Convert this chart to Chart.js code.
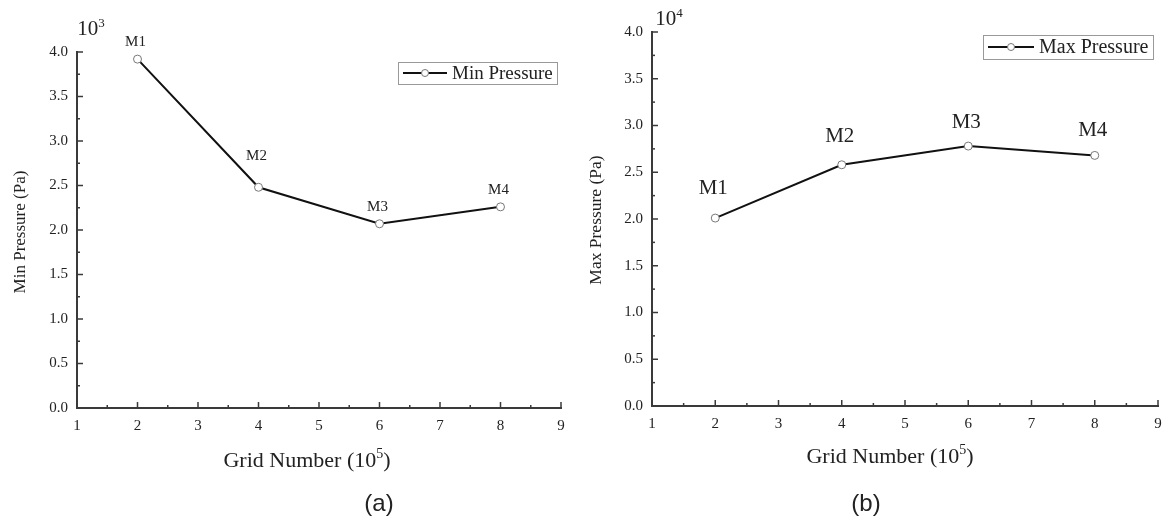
<!DOCTYPE html>
<html>
<head>
<meta charset="utf-8">
<script src="https://cdn.jsdelivr.net/npm/chart.js@4.4.0/dist/chart.umd.min.js"></script>
<style>
  body { margin: 0; background: #fff; }
  #wrap { position: relative; width: 1163px; height: 519px; }
  canvas { position: absolute; top: 0; }
  #minChart { left: 0; }
  #maxChart { left: 580px; }
</style>
</head>
<body>
<div id="wrap">
  <canvas id="minChart" width="580" height="519"></canvas>
  <canvas id="maxChart" width="583" height="519"></canvas>
</div>
<script>
// data
const gridNumbers = [2, 4, 6, 8];          // x, in 10^5 cells
const meshNames = ["M1", "M2", "M3", "M4"];
const minPressure = [3.92, 2.48, 2.07, 2.26]; // x 10^3 Pa
const maxPressure = [2.01, 2.58, 2.78, 2.68]; // x 10^4 Pa
const xTickValues = [1, 2, 3, 4, 5, 6, 7, 8, 9];
const yTickLabels = ["0.0", "0.5", "1.0", "1.5", "2.0", "2.5", "3.0", "3.5", "4.0"];

const FONT = "'Liberation Serif', 'Times New Roman', serif";
const SANS = "'Liberation Sans', Arial, sans-serif";
const AXIS = "#3a3a3a";
const TEXT = "#222";

// draws ticks pointing inward, point labels, legend, titles and captions
function decorPlugin(o) {
  return {
    id: "decor",
    afterDraw(chart) {
      const ctx = chart.ctx;
      const xs = chart.scales.x;
      const ys = chart.scales.y;
      const area = chart.chartArea;
      ctx.save();

      // inward major + minor ticks
      ctx.strokeStyle = AXIS;
      ctx.lineWidth = 1.5;
      const tickLine = (x1, y1, x2, y2) => {
        ctx.beginPath(); ctx.moveTo(x1, y1); ctx.lineTo(x2, y2); ctx.stroke();
      };
      const xt = xs.ticks.map(t => t.value);
      xt.forEach((v, i) => {
        const px = xs.getPixelForValue(v);
        if (i > 0) tickLine(px, area.bottom, px, area.bottom - 6);
        if (i < xt.length - 1) {
          const mx = xs.getPixelForValue((v + xt[i + 1]) / 2);
          tickLine(mx, area.bottom, mx, area.bottom - 3);
        }
      });
      const yt = ys.ticks.map(t => t.value);
      yt.forEach((v, i) => {
        const py = ys.getPixelForValue(v);
        if (i > 0) tickLine(area.left, py, area.left + 6, py);
        if (i < yt.length - 1) {
          const my = ys.getPixelForValue((v + yt[i + 1]) / 2);
          tickLine(area.left, my, area.left + 3, my);
        }
      });

      // point labels
      const meta = chart.getDatasetMeta(0);
      ctx.fillStyle = TEXT;
      ctx.font = o.labelSize + "px " + FONT;
      ctx.textAlign = "center";
      ctx.textBaseline = "middle";
      meta.data.forEach((pt, i) => {
        ctx.fillText(meshNames[i], pt.x - 2, pt.y - o.labelLift[i]);
      });

      // legend box
      const lg = o.legend;
      ctx.fillStyle = "#fff";
      ctx.fillRect(lg.x, lg.y, lg.w, lg.h);
      ctx.strokeStyle = "#999";
      ctx.lineWidth = 1;
      ctx.strokeRect(lg.x + 0.5, lg.y + 0.5, lg.w, lg.h);
      const cy = lg.y + lg.h / 2;
      ctx.strokeStyle = "#111";
      ctx.lineWidth = 2;
      tickLine(lg.x + 5, cy, lg.x + 5 + lg.line, cy);
      ctx.beginPath();
      ctx.arc(lg.x + 5 + lg.line / 2, cy, 3.5, 0, Math.PI * 2);
      ctx.fillStyle = "#fff";
      ctx.fill();
      ctx.strokeStyle = "#777";
      ctx.lineWidth = 1;
      ctx.stroke();
      ctx.fillStyle = TEXT;
      ctx.font = o.legendSize + "px " + FONT;
      ctx.textAlign = "left";
      ctx.fillText(o.seriesName, lg.x + 10 + lg.line, cy + 1);

      // y title (rotated)
      ctx.save();
      ctx.translate(o.yTitle.x, o.yTitle.y);
      ctx.rotate(-Math.PI / 2);
      ctx.textAlign = "center";
      ctx.font = o.yTitle.size + "px " + FONT;
      ctx.fillText(o.yTitle.text, 0, 0);
      ctx.restore();

      // text with a superscript part, centred on cx
      const drawSup = (base, sup, after, cx, cyy, size) => {
        ctx.font = size + "px " + FONT;
        const w1 = ctx.measureText(base).width;
        const w3 = ctx.measureText(after).width;
        ctx.font = Math.round(size * 0.62) + "px " + FONT;
        const w2 = ctx.measureText(sup).width;
        let x = cx - (w1 + w2 + w3) / 2;
        ctx.textAlign = "left";
        ctx.textBaseline = "alphabetic";
        ctx.font = size + "px " + FONT;
        ctx.fillText(base, x, cyy);
        ctx.font = Math.round(size * 0.62) + "px " + FONT;
        ctx.fillText(sup, x + w1, cyy - size * 0.4);
        ctx.font = size + "px " + FONT;
        ctx.fillText(after, x + w1 + w2, cyy);
      };
      drawSup("Grid Number (10", "5", ")", o.xTitle.x, o.xTitle.y, o.xTitle.size);

      // exponent above the y axis
      drawSup("10", o.exp.sup, "", o.exp.x, o.exp.y, o.exp.size);

      // caption
      ctx.font = o.caption.size + "px " + SANS;
      ctx.textAlign = "center";
      ctx.textBaseline = "alphabetic";
      ctx.fillText(o.caption.text, o.caption.x, o.caption.y);

      ctx.restore();
    }
  };
}

function makeChart(id, values, o) {
  const ctx = document.getElementById(id).getContext("2d");
  return new Chart(ctx, {
    type: "line",
    data: {
      datasets: [{
        label: o.seriesName,
        data: gridNumbers.map((g, i) => ({ x: g, y: values[i] })),
        borderColor: "#111",
        borderWidth: 2,
        pointRadius: 4,
        pointBackgroundColor: "#fff",
        pointBorderColor: "#777",
        pointBorderWidth: 1,
        tension: 0,
      }],
    },
    options: {
      responsive: false,
      animation: false,
      devicePixelRatio: 1,
      layout: { padding: o.padding },
      plugins: { legend: { display: false }, tooltip: { enabled: false } },
      scales: {
        x: {
          type: "linear",
          min: xTickValues[0],
          max: xTickValues[xTickValues.length - 1],
          afterBuildTicks: s => { s.ticks = xTickValues.map(v => ({ value: v })); },
          afterFit: s => { s.height = o.xHeight; s.paddingLeft = 0; s.paddingRight = 0; },
          grid: { display: false, drawTicks: false },
          border: { display: true, color: AXIS, width: 2 },
          ticks: {
            autoSkip: false,
            padding: 9,
            color: TEXT,
            font: { family: FONT, size: 15 },
            callback: v => String(v),
          },
        },
        y: {
          min: 0,
          max: 4,
          afterBuildTicks: s => { s.ticks = yTickLabels.map(l => ({ value: parseFloat(l) })); },
          afterFit: s => { s.width = o.yWidth; s.paddingTop = 0; s.paddingBottom = 0; },
          grid: { display: false, drawTicks: false },
          border: { display: true, color: AXIS, width: 2 },
          ticks: {
            autoSkip: false,
            padding: 9,
            color: TEXT,
            font: { family: FONT, size: 15 },
            callback: (v, i) => yTickLabels[i],
          },
        },
      },
    },
    plugins: [decorPlugin(o)],
  });
}

makeChart("minChart", minPressure, {
  seriesName: "Min Pressure",
  padding: { left: 0, right: 19, top: 52, bottom: 0 },
  xHeight: 111,
  yWidth: 77,
  labelSize: 15,
  labelLift: [17, 31, 17, 17],
  legendSize: 19,
  legend: { x: 398, y: 62, w: 159, h: 22, line: 44 },
  yTitle: { text: "Min Pressure (Pa)", x: 21, y: 232, size: 17 },
  xTitle: { x: 307, y: 467, size: 22 },
  exp: { sup: "3", x: 91, y: 35, size: 21 },
  caption: { text: "(a)", x: 379, y: 511, size: 24 },
});

makeChart("maxChart", maxPressure, {
  seriesName: "Max Pressure",
  padding: { left: 0, right: 4, top: 32, bottom: 0 },
  xHeight: 113,
  yWidth: 72,
  labelSize: 21,
  labelLift: [30, 28, 24, 25],
  legendSize: 20,
  legend: { x: 403, y: 35, w: 170, h: 24, line: 46 },
  yTitle: { text: "Max Pressure (Pa)", x: 16, y: 220, size: 17.5 },
  xTitle: { x: 310, y: 463, size: 22 },
  exp: { sup: "4", x: 89, y: 25, size: 21 },
  caption: { text: "(b)", x: 286, y: 511, size: 24 },
});
</script>
</body>
</html>
